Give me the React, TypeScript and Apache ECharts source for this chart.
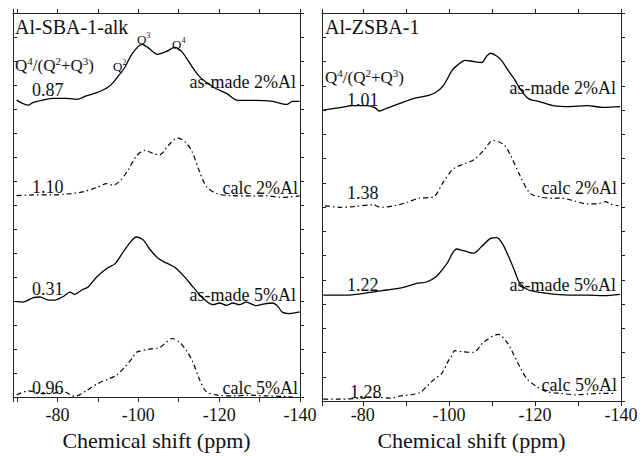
import React, { useEffect, useRef } from "react";
import * as echarts from "echarts";

// ---------- data (ppm, intensity in axis units) ----------
// Left panel: Al-SBA-1-alk
const sbaAsMade2Ppm = [-69.9,-72.8,-73.9,-76.4,-78.9,-82.3,-84.8,-87.3,-90.5,-93.0,-94.9,-96.7,-98.4,-100.9,-102.3,-104.8,-107.0,-109.0,-110.7,-113.2,-115.2,-118.4,-121.8,-124.6,-128.3,-133.2,-136.7,-138.1,-139.9];
const sbaAsMade2Int = [12.37,12.16,12.27,12.37,12.44,12.44,12.40,12.56,12.73,12.97,13.34,13.75,14.28,14.69,14.57,14.28,14.40,14.57,14.40,13.79,13.34,12.93,12.65,12.36,12.36,12.32,12.19,12.32,12.32];

const sbaCalc2Ppm = [-69.9,-73.9,-78.1,-82.3,-86.3,-89.7,-92.2,-93.7,-95.4,-97.4,-99.6,-101.6,-103.6,-105.3,-107.3,-109.7,-111.5,-113.2,-115.2,-116.9,-119.4,-123.3,-128.3,-131.7,-135.7,-139.9];
const sbaCalc2Int = [8.39,8.42,8.42,8.46,8.55,8.73,8.89,8.83,8.99,9.44,10.05,10.28,10.15,10.09,10.46,10.80,10.64,10.26,9.37,8.76,8.48,8.39,8.38,8.38,8.32,8.38];

const sbaAsMade5Ppm = [-69.9,-71.5,-74.0,-75.7,-77.7,-79.4,-81.4,-83.1,-84.3,-86.0,-87.6,-89.7,-92.1,-94.2,-96.2,-98.3,-99.5,-101.2,-102.8,-104.9,-106.9,-109.0,-111.5,-113.5,-116.0,-118.5,-120.1,-121.8,-123.4,-125.0,-126.7,-129.2,-130.8,-133.3,-134.5,-135.7,-137.4,-139.9];
const sbaAsMade5Int = [3.98,3.96,4.14,4.17,4.04,4.04,4.19,4.37,4.28,4.46,4.59,5.00,5.35,5.55,6.03,6.51,6.67,6.55,6.17,5.78,5.59,5.41,5.00,4.59,4.12,3.85,3.92,3.82,3.92,3.85,3.96,3.81,3.87,3.92,3.78,3.53,3.48,3.55];

const sbaCalc5Ppm = [-69.9,-72.8,-75.7,-78.1,-81.4,-84.3,-87.2,-89.7,-93.0,-94.6,-96.7,-98.7,-99.5,-102.8,-105.3,-106.9,-108.4,-110.2,-111.9,-113.5,-115.2,-116.8,-119.3,-123.4,-127.5,-131.6,-135.7,-138.2];
const sbaCalc5Int = [0.09,0.26,0.16,0.14,0.23,0.03,0.27,0.54,0.78,0.91,1.26,1.67,1.87,2.00,2.07,2.28,2.44,2.28,1.94,1.46,0.71,0.23,0.09,0.05,0.08,0.05,0.03,0.00];

// Right panel: Al-ZSBA-1
const zsbAsMade2Ppm = [-70.8,-74.7,-77.8,-80.9,-82.8,-83.8,-85.5,-88.6,-91.7,-94.8,-96.8,-98.7,-100.7,-101.8,-103.8,-105.7,-107.6,-108.8,-109.7,-111.1,-112.3,-113.8,-115.4,-116.5,-118.5,-121.2,-124.3,-128.2,-132.1,-135.9,-139.8];
const zsbAsMade2Int = [12.00,12.10,12.18,12.18,12.10,11.96,12.07,12.27,12.47,12.58,12.71,13.01,13.62,13.82,14.05,14.00,13.96,14.23,14.34,14.23,14.03,13.62,13.22,12.88,12.47,12.34,12.18,12.14,12.18,12.11,12.14];

const zsbCalc2Ppm = [-71.2,-74.7,-77.8,-82.4,-84.0,-87.1,-90.2,-92.9,-96.4,-98.7,-101.0,-103.4,-105.7,-108.0,-110.3,-112.7,-114.2,-116.5,-118.9,-121.2,-124.3,-125.8,-129.0,-132.1,-134.4,-136.4,-137.5,-139.4];
const zsbCalc2Int = [8.05,7.99,8.02,8.09,7.99,8.05,8.19,8.36,8.42,9.03,9.57,9.77,9.94,10.32,10.75,10.58,10.18,9.30,8.56,8.42,8.36,8.38,8.26,8.13,8.13,8.22,8.13,8.05];

const zsbAsMade5Ppm = [-70.8,-76.2,-81.7,-85.5,-89.4,-92.5,-94.8,-97.2,-99.5,-101.8,-103.4,-105.7,-107.6,-109.6,-111.1,-112.3,-113.8,-115.4,-116.5,-118.5,-121.2,-124.3,-128.9,-132.1,-135.9,-139.8];
const zsbAsMade5Int = [4.37,4.37,4.48,4.58,4.69,4.85,4.91,5.16,5.66,6.27,6.20,6.10,6.37,6.70,6.74,6.53,5.99,5.31,4.85,4.58,4.48,4.41,4.37,4.37,4.35,4.40];

const zsbCalc5Ppm = [-70.8,-74.7,-79.3,-83.2,-86.3,-88.6,-91.0,-93.3,-94.8,-96.8,-98.3,-99.9,-100.7,-101.3,-103.4,-105.7,-108.0,-111.5,-113.5,-114.6,-116.5,-118.1,-120.4,-122.8,-125.9,-129.7,-132.8,-135.9,-138.2];
const zsbCalc5Int = [0.08,0.08,0.12,0.16,0.12,0.21,0.26,0.35,0.60,0.93,1.13,1.67,1.88,2.08,2.03,2.01,2.42,2.75,2.42,2.08,1.41,0.93,0.60,0.39,0.32,0.26,0.30,0.32,0.32];

const panelTitles = ["Al-SBA-1-alk", "Al-ZSBA-1"];
const spectrumLabels = ["as-made 2%Al", "calc 2%Al", "as-made 5%Al", "calc 5%Al"];
const ratiosLeft = ["0.87", "1.10", "0.31", "0.96"];
const ratiosRight = ["1.01", "1.38", "1.22", "1.28"];
const xAxisName = "Chemical shift (ppm)";

// ---------- layout ----------
const FONT = "'Liberation Serif', 'Times New Roman', Times, serif";
const INK = "#111";

const zip = (xs: number[], ys: number[]) => xs.map((x, i) => [x, ys[i]]);

function axesFor(grid: number, xmax: number, labelMargin: number, nameGap: number) {
  const lineStyle = { color: "#222", width: 1 };
  const xBottom = {
    gridIndex: grid, type: "value", min: -140, max: xmax, inverse: true, interval: 10, position: "bottom",
    axisLine: { show: true, onZero: false, lineStyle },
    axisTick: { show: true, inside: false, length: 5, lineStyle },
    axisLabel: {
      show: true, margin: labelMargin, fontFamily: FONT, fontSize: 18, color: INK,
      formatter: (v: number) => (Math.round(v) === v && v % 20 === 0 ? String(v) : ""),
    },
    splitLine: { show: false },
    name: xAxisName, nameLocation: "middle", nameGap,
    nameTextStyle: { fontFamily: FONT, fontSize: 22, color: INK },
  };
  const xTop = {
    gridIndex: grid, type: "value", min: -140, max: xmax, inverse: true, interval: 10, position: "top",
    axisLine: { show: true, onZero: false, lineStyle },
    axisTick: { show: true, inside: false, length: 4, lineStyle },
    axisLabel: { show: false }, splitLine: { show: false },
  };
  const yLeft = {
    gridIndex: grid, type: "value", min: 0, max: 16, interval: 1, position: "left",
    axisLine: { show: true, onZero: false, lineStyle },
    axisTick: { show: true, inside: true, length: 4, lineStyle },
    axisLabel: { show: false }, splitLine: { show: false },
  };
  const yRight = {
    gridIndex: grid, type: "value", min: 0, max: 16, interval: 1, position: "right",
    axisLine: { show: true, onZero: false, lineStyle },
    axisTick: { show: true, inside: false, length: 4, lineStyle },
    axisLabel: { show: false }, splitLine: { show: false },
  };
  return { x: [xBottom, xTop], y: [yLeft, yRight] };
}

const solid = { color: "#000", width: 1.3, type: "solid" };
const dashDot = { color: "#000", width: 1.2, type: [5, 3, 1.5, 3] };

function line(name: string, data: number[][], grid: number, style: any) {
  return {
    name, type: "line", data, xAxisIndex: grid * 2, yAxisIndex: grid * 2,
    showSymbol: false, symbol: "none", smooth: 0.3, lineStyle: style, silent: true,
  };
}

function txt(text: string, x: number, y: number, size: number, align = "left") {
  return {
    type: "text", x, y, silent: true,
    style: { text, fontFamily: FONT, fontSize: size, fill: INK, align, verticalAlign: "middle" },
  };
}

function qRatio(x: number, y: number) {
  return {
    type: "text", x, y, silent: true,
    style: {
      text: "{q|Q}{s|4}{q|/(Q}{s|2}{q|+Q}{s|3}{q|)}",
      align: "left", verticalAlign: "middle",
      rich: {
        q: { fontFamily: FONT, fontSize: 17, fill: INK, lineHeight: 19 },
        s: { fontFamily: FONT, fontSize: 11, fill: INK, verticalAlign: "top" },
      },
    },
  };
}

function qLabel(n: string, x: number, y: number) {
  return {
    type: "text", x, y, silent: true,
    style: {
      text: `{q|Q}{s|${n}}`, align: "left", verticalAlign: "middle",
      rich: {
        q: { fontFamily: FONT, fontSize: 13, fill: INK, lineHeight: 15 },
        s: { fontFamily: FONT, fontSize: 8, fill: INK, verticalAlign: "top" },
      },
    },
  };
}

export default function App() {
  const ref = useRef<HTMLDivElement>(null);
  useEffect(() => {
    if (!ref.current) return;
    const chart = echarts.init(ref.current, undefined, { renderer: "svg" });
    const a0 = axesFor(0, -69, 9, 26);
    const a1 = axesFor(1, -70.5, 5, 22);

    const leftLabelY = [82, 188, 295, 388];
    const rightLabelY = [88, 188, 285, 385];
    const leftRatioY = [90, 187, 289, 388];
    const rightRatioY = [100, 193, 285, 392];

    const graphics: any[] = [
      txt(panelTitles[0], 15, 27, 20),
      txt(panelTitles[1], 325, 27, 20),
      qRatio(15, 65),
      qRatio(325, 77),
      qLabel("2", 113, 66),
      qLabel("3", 137, 39),
      qLabel("4", 172, 44),
    ];
    spectrumLabels.forEach((s, i) => {
      const isCalc = s.startsWith("calc");
      graphics.push(txt(s, isCalc ? 298 : 296, leftLabelY[i], 18, "right"));
      graphics.push(txt(s, isCalc ? 617 : 616, rightLabelY[i], 18, "right"));
    });
    ratiosLeft.forEach((r, i) => graphics.push(txt(r, 32, leftRatioY[i], 18)));
    ratiosRight.forEach((r, i) => graphics.push(txt(r, i === 3 ? 350 : 347, rightRatioY[i], 18)));

    chart.setOption({
      animation: false,
      backgroundColor: "#fff",
      grid: [
        { left: 13, top: 13, width: 287, height: 391 },
        { left: 322, top: 13, width: 299, height: 395 },
      ],
      xAxis: [...a0.x, ...a1.x],
      yAxis: [...a0.y, ...a1.y],
      series: [
        line("SBA as-made 2%Al", zip(sbaAsMade2Ppm, sbaAsMade2Int), 0, solid),
        line("SBA calc 2%Al", zip(sbaCalc2Ppm, sbaCalc2Int), 0, dashDot),
        line("SBA as-made 5%Al", zip(sbaAsMade5Ppm, sbaAsMade5Int), 0, solid),
        line("SBA calc 5%Al", zip(sbaCalc5Ppm, sbaCalc5Int), 0, dashDot),
        line("ZSBA as-made 2%Al", zip(zsbAsMade2Ppm, zsbAsMade2Int), 1, solid),
        line("ZSBA calc 2%Al", zip(zsbCalc2Ppm, zsbCalc2Int), 1, dashDot),
        line("ZSBA as-made 5%Al", zip(zsbAsMade5Ppm, zsbAsMade5Int), 1, solid),
        line("ZSBA calc 5%Al", zip(zsbCalc5Ppm, zsbCalc5Int), 1, dashDot),
      ],
      graphic: graphics,
    });
    return () => chart.dispose();
  }, []);
  return <div ref={ref} style={{ width: 641, height: 456, position: "absolute", left: 0, top: 0 }} />;
}
